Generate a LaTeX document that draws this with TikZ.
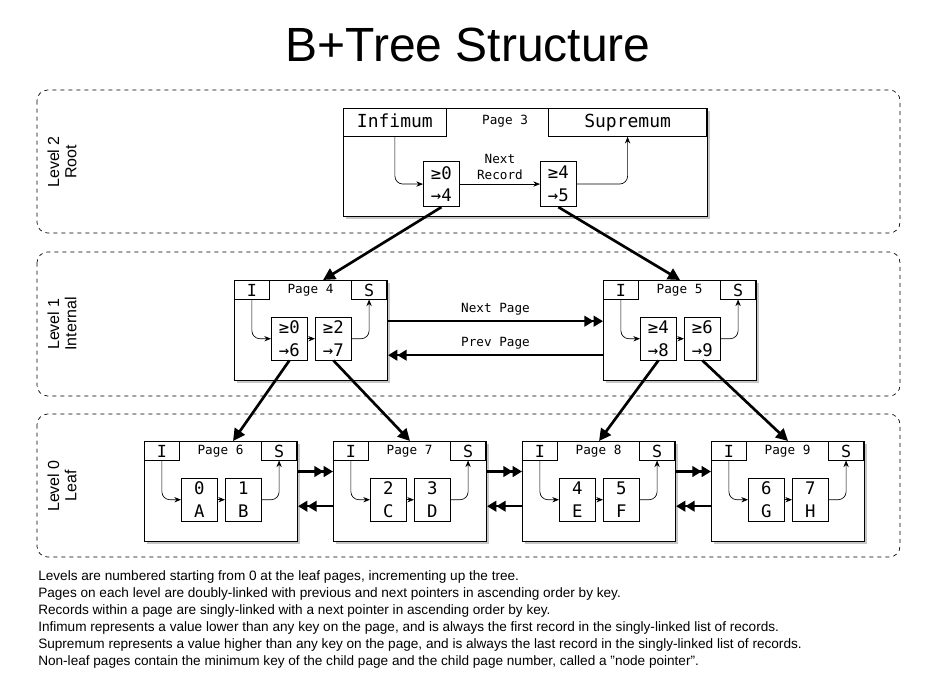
\documentclass[tikz,border=0pt]{standalone}
\usepackage{fontspec}
\setmainfont{Liberation Sans}
\newfontfamily\monof{DejaVu Sans Mono}
\usetikzlibrary{arrows.meta,shadows,calc}
\tikzset{
  px/.style={x=0.75pt,y=-0.75pt},
  level/.style={draw,dashed,rounded corners=8pt,line width=0.5pt},
  lvllabel/.style={rotate=90,align=center,font=\fontsize{12}{13}\selectfont},
  pagebox/.style={draw,fill=white,line width=0.8pt,minimum width=114.75pt,minimum height=75pt,
     inner sep=0pt,drop shadow={opacity=0.45,shadow xshift=1.5pt,shadow yshift=-1.5pt}},
  hdr/.style={draw,line width=0.6pt,minimum width=26.25pt,minimum height=14pt,inner sep=0pt,
     text height=9.5pt,text depth=0pt,font=\monof\fontsize{12.5}{13}\selectfont},
  rec/.style={draw,line width=0.6pt,minimum width=27pt,minimum height=32pt,inner sep=0pt,align=center,
     font=\monof\fontsize{13}{17}\selectfont},
  plabel/.style={font=\monof\fontsize{9.5}{10}\selectfont},
  thin arr/.style={line width=0.5pt,-{Stealth[length=5pt,width=4pt]},rounded corners=6pt},
  tree arr/.style={line width=2pt,-{Triangle[length=9pt,width=9pt]}},
  link arr/.style={line width=1.6pt,-{Triangle[length=7pt,width=8pt]Triangle[length=7pt,width=8pt]}},
}
\newcommand\mkpage[6]{%
  \node[pagebox,anchor=north west] (#1) at (#2,#3) {};
  \node[hdr,anchor=north west] (#1I) at (#2,#3) {I};
  \node[hdr,anchor=north east] (#1S) at (#2+153,#3) {S};
  \node[plabel] (#1L) at (#2+76.5,#3+10) {#4};
  \node[rec,anchor=north west] (#1a) at (#2+37,#3+37) {#5};
  \node[rec,anchor=north west] (#1b) at (#2+81,#3+37) {#6};
  \draw[thin arr] (#1I.south) |- (#1a.west);
  \draw[thin arr] (#1a.east) -- (#1b.west);
  \draw[thin arr] (#1b.east) -| (#1S.south);
}
\begin{document}
\begin{tikzpicture}[px]
\useasboundingbox (0,0) rectangle (936,680);
\node[font=\fontsize{36}{38}\selectfont] (title) at (468,45) {B+Tree Structure};
\draw[level] (37,90) rectangle (900,233);
\draw[level] (37,252) rectangle (900,396);
\draw[level] (37,414) rectangle (900,557);
\node[lvllabel] (l2) at (62,162) {Level 2\\Root};
\node[lvllabel] (l1) at (62,324) {Level 1\\Internal};
\node[lvllabel] (l0) at (62,486) {Level 0\\Leaf};
% root
\node[pagebox,anchor=north west,minimum width=273pt,minimum height=81pt] (p3) at (343,108) {};
\node[hdr,anchor=north west,minimum width=77.25pt,minimum height=21pt,text height=10pt,text depth=2.5pt,font=\monof\fontsize{13.5}{13}\selectfont] (inf) at (343,108) {Infimum};
\node[hdr,anchor=north east,minimum width=118.5pt,minimum height=21pt,text height=10pt,text depth=2.5pt,font=\monof\fontsize{13.5}{13}\selectfont] (sup) at (707,108) {Supremum};
\node[plabel] (p3L) at (505,121) {Page 3};
\node[rec,anchor=north west,minimum height=34pt] (p3a) at (423,161) {≥0\\→4};
\node[rec,anchor=north west,minimum height=34pt] (p3b) at (540,161) {≥4\\→5};
\draw[thin arr] (inf.south) |- (p3a.west);
\draw[thin arr] (p3a.east) -- node[above,plabel,align=center,font=\monof\fontsize{9.5}{12}\selectfont] (nr) {Next\\Record} (p3b.west);
\draw[thin arr] (p3b.east) -| (sup.south);
% internal
\mkpage{p4}{234}{280}{Page 4}{≥0\\→6}{≥2\\→7}
\mkpage{p5}{603}{280}{Page 5}{≥4\\→8}{≥6\\→9}
% leaves
\mkpage{p6}{144}{441}{Page 6}{0\\A}{1\\B}
\mkpage{p7}{333}{441}{Page 7}{2\\C}{3\\D}
\mkpage{p8}{522}{441}{Page 8}{4\\E}{5\\F}
\mkpage{p9}{711}{441}{Page 9}{6\\G}{7\\H}
% tree
\draw[tree arr] (p3a.south) -- ([xshift=9pt]p4.north);
\draw[tree arr] (p3b.south) -- (p5.north);
\draw[tree arr] (p4a.south) -- ([xshift=9pt]p6.north);
\draw[tree arr] (p4b.south) -- (p7.north);
\draw[tree arr] (p5a.south) -- (p8.north);
\draw[tree arr] (p5b.south) -- (p9.north);
% links
\draw[link arr] ([yshift=7pt]p4.east) -- node[above,plabel] (np) {Next Page} ([yshift=7pt]p5.west);
\draw[link arr] ([yshift=-18.5pt]p5.west) -- node[above,plabel] (pp) {Prev Page} ([yshift=-18.5pt]p4.east);
\foreach \a/\b in {p6/p7,p7/p8,p8/p9}{
  \draw[link arr] ([yshift=15pt]\a.east) -- ([yshift=15pt]\b.west);
  \draw[link arr] ([yshift=-11pt]\b.west) -- ([yshift=-11pt]\a.east);
}
\node[anchor=north west,align=left,inner sep=0pt,font=\fontsize{10.2}{12.8}\selectfont] (notes) at (38,570) {%
Levels are numbered starting from 0 at the leaf pages, incrementing up the tree.\\
Pages on each level are doubly-linked with previous and next pointers in ascending order by key.\\
Records within a page are singly-linked with a next pointer in ascending order by key.\\
Infimum represents a value lower than any key on the page, and is always the first record in the singly-linked list of records.\\
Supremum represents a value higher than any key on the page, and is always the last record in the singly-linked list of records.\\
Non-leaf pages contain the minimum key of the child page and the child page number, called a "node pointer".};
\end{tikzpicture}
\end{document}
